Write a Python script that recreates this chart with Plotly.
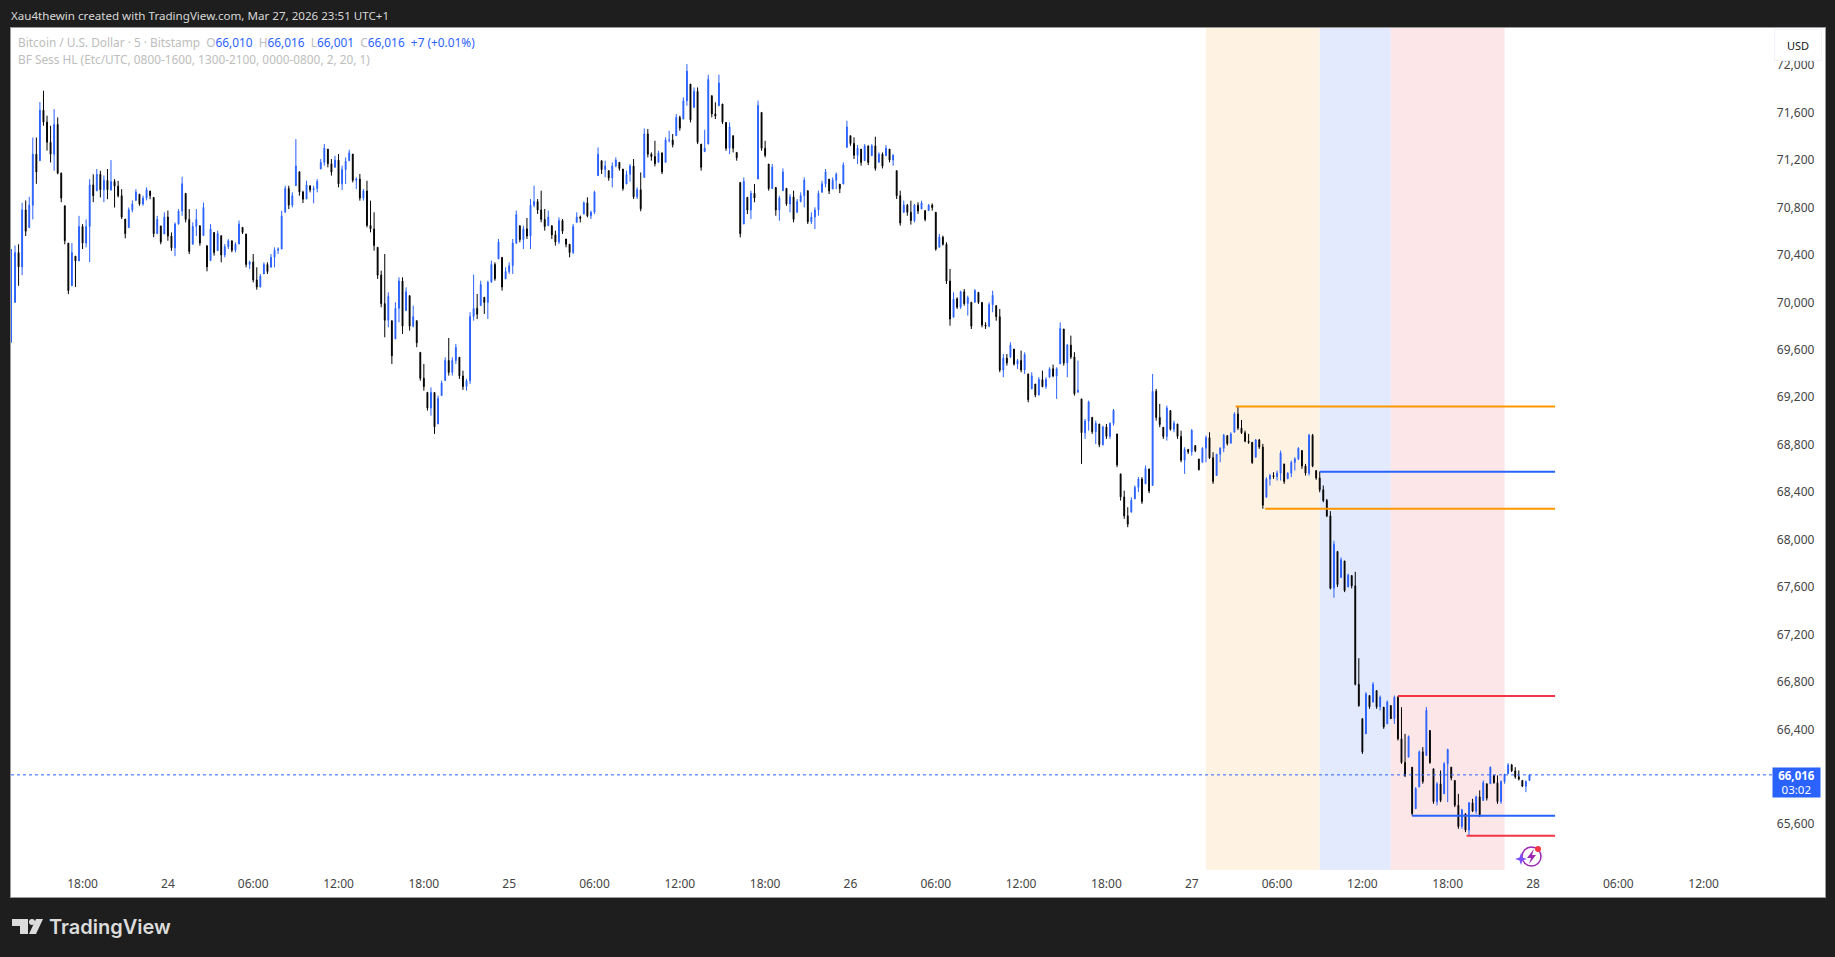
import pandas as pd
import numpy as np
import plotly.graph_objects as go

# bars, one per 15 minutes from Mar 23 13:00 (UTC+1)
bar_start = "2026-03-23 13:00"

highs = [
    70450, 70480, 70490, 70840, 70860, 70890, 71390, 71390, 71690, 71785,
    71575, 71490, 71630, 71560, 71095, 70815, 70500, 70500, 70390, 70730,
    70660, 70700, 71040, 71080, 71125, 71110, 71070, 71125, 71200, 71040,
    71025, 70955, 70703, 70800, 70860, 70955, 70913, 70900, 70970, 70940,
    70885, 70730, 70645, 70760, 70775, 70590, 70675, 70787, 71060, 70920,
    70787, 70675, 70787, 70647, 70843, 70478, 70660, 70590, 70605, 70563,
    70492, 70534, 70520, 70506, 70690, 70633, 70577, 70352, 70408, 70296,
    70240, 70338, 70338, 70408, 70464, 70464, 70773, 70984, 70984, 70928,
    71377, 71102, 70942, 71026, 70984, 70984, 71040, 71209, 71336, 71293,
    71209, 71237, 71251, 71153, 71223, 71288, 71251, 71055, 71083, 70956,
    71026, 70858, 70760, 70465, 70268, 70408, 70085, 69846, 70001, 70212,
    70212, 70127, 70057, 69973, 69846, 69579, 69481, 69242, 69284, 69242,
    69214, 69341, 69537, 69700, 69537, 69650, 69537, 69425, 69355, 69917,
    70234, 70071, 70183, 70043, 70183, 70352, 70338, 70535, 70380, 70296,
    70338, 70535, 70774, 70647, 70647, 70712, 70872, 70984, 70872, 70942,
    70788, 70774, 70647, 70605, 70717, 70703, 70535, 70492, 70661, 70760,
    70732, 70852, 70886, 70774, 70942, 71307, 71195, 71195, 71111, 71181,
    71223, 71181, 71125, 71111, 71167, 71209, 70970, 71096, 71467, 71462,
    71265, 71363, 71279, 71265, 71392, 71448, 71420, 71588, 71574, 71729,
    72010, 71841, 71813, 71813, 71335, 71456, 71920, 71743, 71687, 71920,
    71673, 71518, 71518, 71406, 71265, 71012, 71054, 70886, 70942, 70998,
    71701, 71602, 71363, 71167, 71167, 70970, 70900, 71130, 70962, 70914,
    70942, 70872, 70928, 71054, 70942, 70759, 70802, 70942, 71026, 71125,
    71040, 71054, 71096, 70998, 71181, 71532, 71406, 71392, 71327, 71293,
    71335, 71321, 71335, 71397, 71265, 71265, 71327, 71293, 71251, 71111,
    70942, 70858, 70830, 70858, 70830, 70844, 70858, 70774, 70830, 70835,
    70760, 70577, 70563, 70507, 70282, 70085, 70043, 70099, 70113, 70057,
    70001, 70113, 70085, 70001, 69832, 70001, 70099, 69973, 69945, 69565,
    69565, 69664, 69607, 69523, 69594, 69579, 69397, 69411, 69312, 69369,
    69425, 69369, 69453, 69476, 69453, 69832, 69776, 69650, 69720, 69580,
    69509, 69186, 69017, 69172, 69031, 69003, 68975, 68961, 68975, 68989,
    69101, 68891, 68554, 68413, 68273, 68357, 68456, 68526, 68526, 68624,
    68596, 69397, 69270, 69144, 68947, 69130, 69088, 69003, 68975, 68919,
    68779, 68765, 68933, 68793, 68680, 68779, 68877, 68905, 68737, 68722,
    68779, 68891, 68877, 68905, 69074, 69123, 69009, 68919, 68891, 68821,
    68849, 68849, 68807, 68526, 68554, 68568, 68582, 68751, 68638, 68568,
    68666, 68694, 68779, 68751, 68638, 68891, 68891, 68582, 68573, 68456,
    68343, 68240, 67990, 67900, 67850, 67820, 67712, 67697, 67728, 67000,
    66490, 66713, 66685, 66798, 66727, 66685, 66587, 66643, 66601, 66685,
    66680, 66587, 66362, 66348, 66081, 65913, 66222, 66250, 66587, 66390,
    66067, 65955, 66053, 66123, 66236, 66081, 65969, 65856, 65730, 65688,
    65786, 65814, 65842, 65885, 65969, 65941, 66087, 66011, 66011, 65969,
    66025, 66115, 66109, 66081, 66053, 65969, 65969, 66016,
]

lows = [
    69660, 70000, 70140, 70230, 70560, 70630, 70700, 71000, 71195, 71490,
    71280, 71180, 71110, 71080, 70845, 70490, 70070, 70140, 70130, 70350,
    70450, 70465, 70340, 70845, 70940, 70885, 70845, 70870, 70940, 70800,
    70885, 70703, 70540, 70630, 70760, 70860, 70815, 70815, 70860, 70870,
    70550, 70577, 70490, 70577, 70520, 70435, 70390, 70660, 70730, 70675,
    70408, 70490, 70560, 70478, 70563, 70262, 70352, 70394, 70436, 70338,
    70380, 70450, 70422, 70422, 70492, 70577, 70296, 70282, 70169, 70107,
    70127, 70240, 70240, 70296, 70296, 70408, 70450, 70760, 70787, 70801,
    70984, 70900, 70838, 70872, 70928, 70835, 70928, 71125, 71153, 71139,
    71069, 71139, 70970, 70948, 70998, 71195, 71012, 70956, 70858, 70858,
    70633, 70591, 70436, 70198, 69959, 69706, 69790, 69481, 69692, 69832,
    69734, 69931, 69762, 69790, 69622, 69340, 69256, 69088, 69045, 68891,
    68975, 69214, 69341, 69383, 69383, 69481, 69355, 69262, 69256, 69312,
    69846, 69860, 69973, 69903, 69860, 70170, 70183, 70366, 70099, 70198,
    70240, 70240, 70492, 70507, 70450, 70535, 70450, 70802, 70746, 70675,
    70605, 70647, 70535, 70479, 70492, 70577, 70465, 70380, 70408, 70675,
    70675, 70745, 70717, 70703, 70745, 71069, 71083, 71055, 71026, 70970,
    71139, 71111, 70942, 70998, 71018, 70872, 70872, 70768, 71054, 71223,
    71195, 71147, 71181, 71082, 71181, 71350, 71307, 71406, 71448, 71546,
    71658, 71518, 71644, 71335, 71111, 71271, 71335, 71560, 71546, 71658,
    71504, 71279, 71251, 71265, 71195, 70548, 70661, 70745, 70703, 70844,
    71040, 71279, 71223, 70942, 70956, 70731, 70689, 70942, 70815, 70759,
    70675, 70759, 70844, 70801, 70661, 70661, 70619, 70731, 70928, 70970,
    70914, 70956, 70956, 70922, 70998, 71307, 71321, 71209, 71167, 71153,
    71195, 71158, 71237, 71111, 71181, 71130, 71237, 71181, 71153, 70872,
    70647, 70759, 70731, 70656, 70675, 70746, 70788, 70684, 70774, 70774,
    70436, 70465, 70479, 70155, 69804, 69875, 69945, 69945, 69973, 69889,
    69776, 70001, 69987, 69790, 69776, 69790, 69917, 69846, 69411, 69369,
    69467, 69537, 69467, 69439, 69411, 69397, 69158, 69270, 69200, 69214,
    69284, 69270, 69369, 69369, 69186, 69481, 69467, 69369, 69523, 69214,
    69242, 68638, 68849, 68919, 68891, 68807, 68779, 68793, 68849, 68849,
    68961, 68610, 68329, 68175, 68104, 68231, 68343, 68400, 68301, 68470,
    68391, 68456, 69003, 68947, 68849, 68835, 68919, 68905, 68849, 68652,
    68554, 68722, 68708, 68737, 68582, 68652, 68652, 68680, 68470, 68540,
    68652, 68737, 68793, 68812, 68905, 68925, 68891, 68821, 68807, 68638,
    68694, 68765, 68260, 68357, 68456, 68512, 68498, 68498, 68470, 68512,
    68526, 68582, 68672, 68596, 68540, 68540, 68610, 68504, 68399, 68315,
    68189, 67580, 67510, 67600, 67680, 67557, 67600, 67588, 66770, 66590,
    66193, 66362, 66573, 66629, 66573, 66559, 66404, 66446, 66489, 66446,
    66306, 66109, 65997, 66165, 65672, 65730, 65913, 65941, 66180, 66109,
    65772, 65758, 65786, 65856, 65786, 65969, 65744, 65561, 65561, 65533,
    65503, 65702, 65688, 65660, 65800, 65800, 65941, 65941, 65772, 65772,
    65941, 66025, 66039, 65983, 65969, 65913, 65870, 65969,
]

closes = [
    70000, 70420, 70300, 70780, 70600, 70820, 71250, 71100, 71620, 71520,
    71350, 71250, 71500, 71090, 70880, 70520, 70100, 70420, 70350, 70640,
    70500, 70640, 70990, 70900, 71080, 70950, 71030, 70950, 71020, 70980,
    70900, 70720, 70580, 70780, 70830, 70930, 70830, 70880, 70950, 70900,
    70580, 70700, 70510, 70720, 70560, 70460, 70660, 70770, 71000, 70700,
    70430, 70640, 70700, 70500, 70800, 70300, 70620, 70420, 70580, 70400,
    70470, 70520, 70440, 70490, 70660, 70590, 70320, 70340, 70190, 70130,
    70220, 70320, 70260, 70380, 70440, 70450, 70730, 70960, 70820, 70900,
    71150, 70930, 70870, 70990, 70950, 70960, 71020, 71180, 71300, 71170,
    71100, 71200, 71000, 71120, 71190, 71260, 71030, 71040, 70880, 70940,
    70650, 70620, 70480, 70230, 69990, 69850, 70050, 69550, 69950, 70180,
    69800, 70090, 69800, 69880, 69660, 69360, 69290, 69110, 69240, 68950,
    69190, 69320, 69510, 69410, 69510, 69620, 69380, 69290, 69340, 69880,
    69950, 69900, 70150, 70000, 70170, 70320, 70200, 70510, 70130, 70260,
    70310, 70500, 70740, 70530, 70620, 70560, 70820, 70850, 70780, 70700,
    70640, 70720, 70570, 70510, 70690, 70600, 70490, 70420, 70640, 70720,
    70710, 70840, 70730, 70760, 70930, 71250, 71120, 71150, 71050, 71150,
    71200, 71130, 70960, 71080, 71150, 70890, 70950, 70790, 71420, 71250,
    71230, 71170, 71260, 71100, 71370, 71370, 71330, 71560, 71470, 71700,
    71950, 71540, 71780, 71350, 71140, 71300, 71880, 71590, 71570, 71850,
    71520, 71300, 71480, 71300, 71220, 70580, 71020, 70780, 70920, 70880,
    71660, 71300, 71240, 70960, 71140, 70780, 70880, 71100, 70830, 70890,
    70700, 70850, 70900, 71030, 70680, 70720, 70780, 70920, 71000, 71100,
    70940, 71030, 71080, 70960, 71160, 71480, 71340, 71240, 71300, 71180,
    71320, 71180, 71320, 71130, 71250, 71150, 71300, 71200, 71240, 70900,
    70670, 70820, 70760, 70690, 70820, 70770, 70840, 70700, 70820, 70800,
    70450, 70550, 70490, 70180, 69860, 70030, 69960, 70090, 69990, 70040,
    69800, 70100, 70000, 69810, 69800, 69980, 70060, 69880, 69430, 69530,
    69490, 69640, 69480, 69510, 69430, 69560, 69180, 69380, 69220, 69350,
    69290, 69350, 69440, 69380, 69440, 69780, 69490, 69640, 69540, 69230,
    69260, 68900, 69000, 69160, 68910, 68980, 68800, 68950, 68870, 68980,
    69090, 68630, 68360, 68200, 68130, 68330, 68440, 68510, 68320, 68600,
    68410, 69250, 69030, 68970, 68870, 69110, 68930, 68980, 68870, 68670,
    68760, 68740, 68920, 68750, 68590, 68770, 68860, 68690, 68490, 68720,
    68770, 68880, 68810, 68890, 69060, 68940, 68900, 68830, 68820, 68650,
    68840, 68780, 68290, 68510, 68540, 68530, 68560, 68730, 68490, 68560,
    68650, 68680, 68770, 68620, 68560, 68880, 68620, 68520, 68420, 68330,
    68200, 67590, 67960, 67620, 67830, 67570, 67700, 67610, 66780, 66600,
    66210, 66700, 66590, 66780, 66590, 66670, 66420, 66630, 66490, 66670,
    66320, 66120, 66010, 66340, 65690, 65900, 66210, 65960, 66560, 66120,
    65790, 65940, 65800, 66110, 66230, 65990, 65760, 65580, 65720, 65550,
    65780, 65710, 65830, 65680, 65950, 65820, 66080, 65950, 65790, 65960,
    66020, 66100, 66050, 66000, 65980, 65920, 65960, 66016,
]

price_ticks = list(range(65600, 72001, 400))

time_tick_vals = ["2026-03-23 18:00", "2026-03-24 00:00", "2026-03-24 06:00", "2026-03-24 12:00",
                  "2026-03-24 18:00", "2026-03-25 00:00", "2026-03-25 06:00", "2026-03-25 12:00",
                  "2026-03-25 18:00", "2026-03-26 00:00", "2026-03-26 06:00", "2026-03-26 12:00",
                  "2026-03-26 18:00", "2026-03-27 00:00", "2026-03-27 06:00", "2026-03-27 12:00",
                  "2026-03-27 18:00", "2026-03-28 00:00", "2026-03-28 06:00", "2026-03-28 12:00"]
time_tick_text = ["18:00", "24", "06:00", "12:00", "18:00", "25", "06:00", "12:00", "18:00", "26",
                  "06:00", "12:00", "18:00", "27", "06:00", "12:00", "18:00", "28", "06:00", "12:00"]

# session boxes: start, end, fill
session_starts = ["2026-03-27 01:00", "2026-03-27 09:00", "2026-03-27 14:00"]
session_ends = ["2026-03-27 09:00", "2026-03-27 14:00", "2026-03-27 22:00"]
session_fills = ["#FEF2E2", "#E4EAFD", "#FDE6E8"]

# session high/low lines: start, price, colour
level_starts = ["2026-03-27 03:05", "2026-03-27 05:10", "2026-03-27 09:00",
                "2026-03-27 15:30", "2026-03-27 14:30", "2026-03-27 19:20"]
level_prices = [69123, 68260, 68573, 65672, 66680, 65503]
level_colors = ["#FF9800", "#FF9800", "#2962FF", "#2962FF", "#F23645", "#F23645"]
level_end = "2026-03-28 01:33"

last_price = 66016

BLUE = "#2962FF"
GREY = "#BDBDBD"


def px(x):
    return (x - 11) / 1814


def py(y):
    return (897 - y) / 869


times = pd.date_range(bar_start, periods=len(closes), freq="15min")
opens = np.clip([closes[0]] + closes[:-1], lows, highs)

fig = go.Figure()

fig.add_trace(go.Candlestick(
    x=times,
    open=opens,
    high=highs,
    low=lows,
    close=closes,
    increasing=dict(line=dict(color=BLUE, width=1), fillcolor=BLUE),
    decreasing=dict(line=dict(color="#000000", width=1), fillcolor="#000000"),
    whiskerwidth=0,
    hoverinfo="skip",
))

for start, price, color in zip(level_starts, level_prices, level_colors):
    fig.add_trace(go.Scatter(x=[start, level_end], y=[price, price], mode="lines",
                             line=dict(color=color, width=2), hoverinfo="skip"))

shapes = []
for start, end, fill in zip(session_starts, session_ends, session_fills):
    shapes.append(dict(type="rect", xref="x", yref="paper", x0=start, x1=end, y0=py(870), y1=1,
                       fillcolor=fill, line_width=0, layer="below"))

# last price line
shapes.append(dict(type="line", xref="paper", yref="y", x0=0, x1=px(1772), y0=last_price, y1=last_price,
                   line=dict(color=BLUE, width=1, dash="dot")))

# TradingView logo
logo_a = [(12, 919), (28, 919), (28, 934), (20, 934), (20, 926), (12, 926)]
logo_b = [(36, 919), (43, 919), (36, 934), (29, 934)]
for pts in (logo_a, logo_b):
    path = "M " + " L ".join(f"{px(a)} {py(b)}" for a, b in pts) + " Z"
    shapes.append(dict(type="path", xref="paper", yref="paper", path=path,
                       fillcolor="#DCDCDC", line_width=0))
shapes.append(dict(type="circle", xref="paper", yref="paper", x0=px(29), x1=px(35), y0=py(925), y1=py(919),
                   fillcolor="#DCDCDC", line_width=0))

# small replay icon under the last bars
shapes.append(dict(type="circle", xref="paper", yref="paper", x0=px(1522), x1=px(1541), y0=py(866), y1=py(847),
                   line=dict(color="#9C27B0", width=1.5)))
bolt = [(1534, 849), (1527, 858), (1531, 858), (1529, 864), (1536, 855), (1532, 855)]
star = [(1521, 853), (1522.5, 857.5), (1527, 859), (1522.5, 860.5), (1521, 865), (1519.5, 860.5), (1515, 859), (1519.5, 857.5)]
for pts, color in ((bolt, "#9C27B0"), (star, "#7C4DFF")):
    path = "M " + " L ".join(f"{px(a)} {py(b)}" for a, b in pts) + " Z"
    shapes.append(dict(type="path", xref="paper", yref="paper", path=path, fillcolor=color, line_width=0))
shapes.append(dict(type="circle", xref="paper", yref="paper", x0=px(1535), x1=px(1541), y0=py(852), y1=py(846),
                   fillcolor="#F23645", line_width=0))

legend_line = ("Bitcoin / U.S. Dollar · 5 · Bitstamp&nbsp;&nbsp;"
               f"O<span style='color:{BLUE}'>66,010</span>&nbsp;&nbsp;"
               f"H<span style='color:{BLUE}'>66,016</span>&nbsp;&nbsp;"
               f"L<span style='color:{BLUE}'>66,001</span>&nbsp;&nbsp;"
               f"C<span style='color:{BLUE}'>66,016</span>&nbsp;&nbsp;"
               f"<span style='color:{BLUE}'>+7 (+0.01%)</span>")

annotations = [
    dict(x=px(9), y=py(15), text="Xau4thewin created with TradingView.com, Mar 27, 2026 23:51 UTC+1",
         font=dict(size=11.6, color="#D8D8D8")),
    dict(x=px(16), y=py(41.5), text=legend_line, font=dict(size=11.85, color=GREY)),
    dict(x=px(16), y=py(58.5), text="BF Sess HL (Etc/UTC, 0800-1600, 1300-2100, 0000-0800, 2, 20, 1)",
         font=dict(size=11.85, color=GREY)),
    dict(x=px(47), y=py(927), text="TradingView", font=dict(size=20, color="#DCDCDC", family="Inter", weight=600)),
]
for a in annotations:
    a.update(xref="paper", yref="paper", xanchor="left", yanchor="middle", showarrow=False, align="left")

annotations.append(dict(x=px(1798), y=py(45), xref="paper", yref="paper", xanchor="center", yanchor="middle",
                        text="USD", showarrow=False, font=dict(size=11, color="#131722"), bgcolor="#FFFFFF",
                        bordercolor="#F0F3FA", borderwidth=1, width=44, height=28))
annotations.append(dict(x=px(1796.5), y=py(782.5), xref="paper", yref="paper", xanchor="center", yanchor="middle",
                        showarrow=False, text="<b>66,016</b><br>03:02", font=dict(size=11.5, color="#FFFFFF"),
                        bgcolor=BLUE, width=47, height=29, borderpad=0))

fig.update_layout(
    width=1835,
    height=957,
    margin=dict(l=11, r=10, t=28, b=60),
    paper_bgcolor="#1E1E1E",
    plot_bgcolor="#FFFFFF",
    font=dict(family="Noto Sans", size=12, color=GREY),
    showlegend=False,
    boxgap=0.65,
    shapes=shapes,
    annotations=annotations,
    xaxis=dict(
        range=["2026-03-23 12:58", "2026-03-28 20:32"],
        rangeslider_visible=False,
        tickmode="array",
        tickvals=time_tick_vals,
        ticktext=time_tick_text,
        ticklabelposition="inside",
        ticks="inside",
        ticklen=6,
        tickcolor="#FFFFFF",
        showgrid=False,
        zeroline=False,
        showline=True,
        linecolor="#9A9A9A",
        mirror=True,
    ),
    yaxis=dict(
        range=[64986, 72314],
        side="right",
        tickmode="array",
        tickvals=price_ticks,
        ticktext=[f"{p:,}" for p in price_ticks],
        ticklabelposition="inside",
        ticks="inside",
        ticklen=10,
        tickcolor="#FFFFFF",
        showgrid=False,
        zeroline=False,
        showline=True,
        linecolor="#9A9A9A",
        mirror=True,
    ),
)

fig.write_html("out.html", config=dict(displayModeBar=False),
               post_script="document.body.style.margin='0';document.body.style.overflow='hidden';")
